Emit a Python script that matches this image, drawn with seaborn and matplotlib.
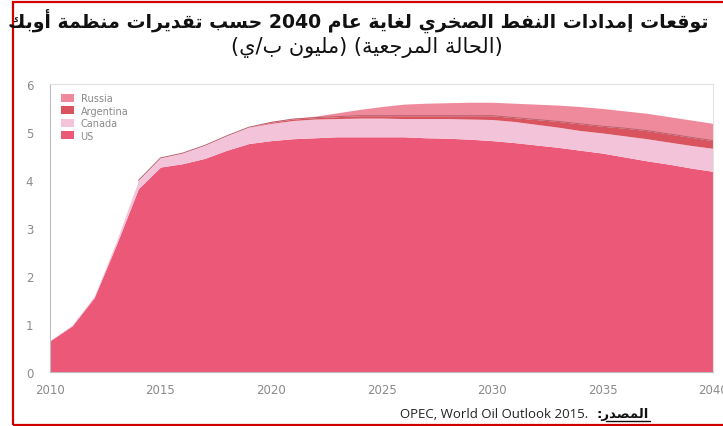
import re
import numpy as np
import pandas as pd
import seaborn as sns
import matplotlib
matplotlib.use("Agg")
import matplotlib.pyplot as plt
from matplotlib.patches import Rectangle, Patch
from matplotlib.lines import Line2D

# ---------------- data ----------------
years = list(range(2010, 2041))
us = [0.65, 0.96, 1.55, 2.65, 3.82, 4.27, 4.34, 4.45, 4.62, 4.76,
      4.82, 4.86, 4.88, 4.90, 4.90, 4.90, 4.90, 4.88, 4.87, 4.85,
      4.82, 4.78, 4.73, 4.68, 4.62, 4.56, 4.48, 4.40, 4.33, 4.25, 4.18]
canada = [0.01, 0.02, 0.03, 0.07, 0.17, 0.19, 0.22, 0.27, 0.30, 0.34,
          0.36, 0.38, 0.39, 0.38, 0.39, 0.39, 0.38, 0.40, 0.41, 0.42,
          0.44, 0.44, 0.43, 0.42, 0.41, 0.42, 0.44, 0.46, 0.46, 0.47, 0.48]
argentina = [0, 0, 0, 0, 0, 0, 0, 0, 0, 0,
             0.02, 0.03, 0.03, 0.04, 0.05, 0.05, 0.06, 0.06, 0.06, 0.07,
             0.08, 0.08, 0.10, 0.12, 0.14, 0.14, 0.16, 0.17, 0.17, 0.17, 0.16]
russia = [0, 0, 0, 0, 0, 0, 0, 0, 0, 0,
          0.02, 0.01, 0.03, 0.08, 0.13, 0.19, 0.24, 0.26, 0.27, 0.28,
          0.28, 0.30, 0.32, 0.34, 0.36, 0.37, 0.36, 0.36, 0.36, 0.36, 0.36]
series_names = ["US", "Canada", "Argentina", "Russia"]
x_ticks = [2010, 2015, 2020, 2025, 2030, 2035, 2040]
y_ticks = [0, 1, 2, 3, 4, 5, 6]

title1 = "توقعات إمدادات النفط الصخري لغاية عام 2040 حسب تقديرات منظمة أوبك"
title2 = "(الحالة المرجعية) (مليون ب/ي)"
source_label = "المصدر"
source_text = "OPEC, World Oil Outlook 2015."

colors = ["#EC5877", "#F3C3DA", "#D9545F", "#EE8A9C"]

# ---------------- minimal Arabic shaping ----------------
_letters = [('ء', 0xFE80, 1), ('آ', 0xFE81, 2), ('أ', 0xFE83, 2), ('ؤ', 0xFE85, 2),
            ('إ', 0xFE87, 2), ('ئ', 0xFE89, 4), ('ا', 0xFE8D, 2), ('ب', 0xFE8F, 4),
            ('ة', 0xFE93, 2), ('ت', 0xFE95, 4), ('ث', 0xFE99, 4), ('ج', 0xFE9D, 4),
            ('ح', 0xFEA1, 4), ('خ', 0xFEA5, 4), ('د', 0xFEA9, 2), ('ذ', 0xFEAB, 2),
            ('ر', 0xFEAD, 2), ('ز', 0xFEAF, 2), ('س', 0xFEB1, 4), ('ش', 0xFEB5, 4),
            ('ص', 0xFEB9, 4), ('ض', 0xFEBD, 4), ('ط', 0xFEC1, 4), ('ظ', 0xFEC5, 4),
            ('ع', 0xFEC9, 4), ('غ', 0xFECD, 4), ('ف', 0xFED1, 4), ('ق', 0xFED5, 4),
            ('ك', 0xFED9, 4), ('ل', 0xFEDD, 4), ('م', 0xFEE1, 4), ('ن', 0xFEE5, 4),
            ('ه', 0xFEE9, 4), ('و', 0xFEED, 2), ('ى', 0xFEEF, 2), ('ي', 0xFEF1, 4)]
FORMS = {c: (b, n) for c, b, n in _letters}
LAMALEF = {'ا': 0xFEFB, 'أ': 0xFEF7, 'إ': 0xFEF9, 'آ': 0xFEF5}


def shape(s):
    out = []
    i = 0
    n = len(s)
    while i < n:
        c = s[i]
        if c not in FORMS:
            out.append(c)
            i += 1
            continue
        prev = s[i - 1] if i > 0 else ''
        pj = prev in FORMS and FORMS[prev][1] == 4
        nxt = s[i + 1] if i + 1 < n else ''
        if c == 'ل' and nxt in LAMALEF:
            out.append(chr(LAMALEF[nxt] + (1 if pj else 0)))
            i += 2
            continue
        base, cnt = FORMS[c]
        nj = cnt == 4 and nxt in FORMS and FORMS[nxt][1] >= 2
        if cnt == 1:
            idx = 0
        elif pj and nj:
            idx = 3
        elif pj:
            idx = 1
        elif nj:
            idx = 2
        else:
            idx = 0
        out.append(chr(base + idx))
        i += 1
    return ''.join(out)


def visual(s):
    v = shape(s)[::-1]
    v = re.sub(r'[0-9A-Za-z.,]+', lambda m: m.group(0)[::-1], v)
    return v.translate(str.maketrans({'(': ')', ')': '('}))


# ---------------- figure ----------------
sns.set_theme(style="white")
plt.rcParams['font.family'] = ['DejaVu Sans']

W, H = 723, 427
fig = plt.figure(figsize=(W / 100, H / 100), dpi=100)
fig.patch.set_facecolor("white")
ax = fig.add_axes([50 / W, 54 / H, 663 / W, 288 / H])

df = pd.DataFrame({"year": years, "US": us, "Canada": canada,
                   "Argentina": argentina, "Russia": russia})
ax.stackplot(df["year"], [df[s] for s in series_names], colors=colors,
             labels=series_names, linewidth=0)

# thin darker edge along the upper boundary of the US+Canada block
df["top3"] = df["US"] + df["Canada"] + df["Argentina"]
edge = df[df["year"] >= 2014]
sns.lineplot(data=edge, x="year", y="top3", ax=ax, color="#B8616F",
             linewidth=0.7, legend=False)

ax.set_xlim(2010, 2040)
ax.set_ylim(0, 6)
ax.set_xticks(x_ticks)
ax.set_yticks(y_ticks)
ax.set_xlabel("")
ax.set_ylabel("")
ax.tick_params(axis="both", colors="#A0A0A0", labelcolor="#8A8A8A",
               labelsize=8.5, length=5, width=0.8, direction="out")
ax.tick_params(axis="y", length=8, pad=4)
ax.tick_params(axis="x", length=3, pad=5)
for name, sp in ax.spines.items():
    sp.set_linewidth(0.8)
    sp.set_color("#BDBDBD" if name in ("left", "bottom") else "#E2E2E2")

handles = [Patch(facecolor=colors[i], edgecolor="none", label=series_names[i])
           for i in range(len(series_names))][::-1]
leg = ax.legend(handles=handles, loc="upper left", frameon=False, fontsize=7,
                handlelength=1.3, handleheight=0.9, labelspacing=0.25,
                handletextpad=0.7, borderaxespad=0.4,
                bbox_to_anchor=(0.005, 0.995))
for t in leg.get_texts():
    t.set_color("#8A8A8A")

# titles
fig.text(358 / W, 1 - 21 / H, visual(title1), ha="center", va="center",
         fontsize=13.6, fontweight="bold", color="#111111")
fig.text(367 / W, 1 - 47 / H, visual(title2), ha="center", va="center",
         fontsize=15, color="#111111")

# source line
fig.text(588 / W, 1 - 415 / H, source_text, ha="right", va="center",
         fontsize=9.5, family=["Open Sans", "DejaVu Sans"], color="#222222")
fig.text(596 / W, 1 - 415 / H, ":" + visual(source_label), ha="left",
         va="center", fontsize=9.5, fontweight="bold", color="#111111")
fig.add_artist(Line2D([606 / W, 650 / W], [1 - 422 / H, 1 - 422 / H],
                      transform=fig.transFigure, color="#111111", lw=1.0))

# red frame
fig.add_artist(Rectangle((13 / W, 1.5 / H), 1.0, (424 - 1.5) / H,
                         transform=fig.transFigure, fill=False,
                         edgecolor="#D00000", linewidth=1.6, clip_on=False))

fig.savefig("out.png", dpi=100)
